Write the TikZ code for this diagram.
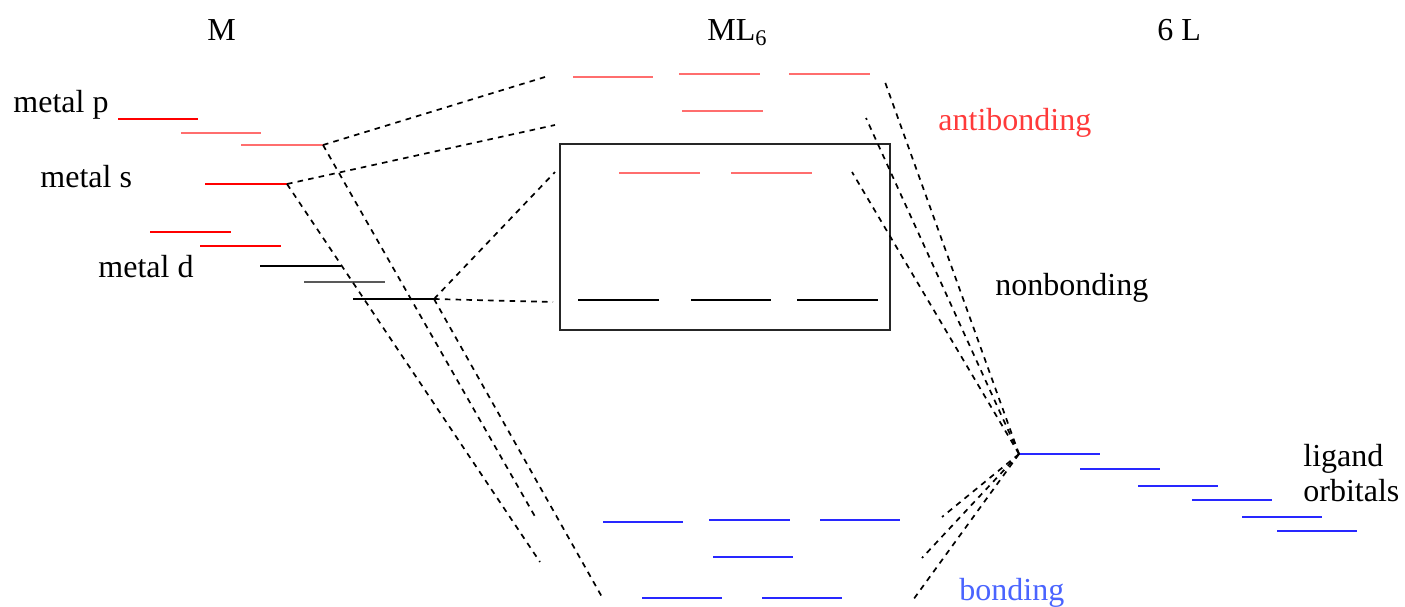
\documentclass[tikz,border=0pt]{standalone}
\usepackage{fontspec}
\setmainfont{Liberation Serif}
\usepackage{tikz}

\definecolor{rojo}{HTML}{FF0000}
\definecolor{rojoclaro}{HTML}{FF6E6E}
\definecolor{textorojo}{HTML}{FF3A3A}
\definecolor{azul}{HTML}{2828FF}
\definecolor{textoazul}{HTML}{4A64FF}

\tikzset{
  nivel/.style={line width=1.1pt},
  enlace/.style={line width=0.85pt, dash pattern=on 2.8pt off 2.6pt},
  etiqueta/.style={anchor=base west, inner sep=0pt, font=\fontsize{16}{17.5}\selectfont},
}

\begin{document}
\begin{tikzpicture}[x=5pt, y=-5pt]
\useasboundingbox (0,0) rectangle (140.5,60.6);

% titulos de las columnas
\node[etiqueta] (tM) at (20.7,4.0) {M};
\node[etiqueta] (tML) at (70.7,4.0) {ML\textsubscript{6}};
\node[etiqueta] (tL) at (115.7,4.0) {6 L};

% M: niveles del metal (p, s, d)
\node[etiqueta] (mp) at (1.3,11.2) {metal p};
\node[etiqueta] (ms) at (4.0,18.7) {metal s};
\node[etiqueta] (md) at (9.8,27.7) {metal d};
\draw[nivel, rojo] (11.8,11.9) -- (19.8,11.9);
\draw[nivel, rojoclaro] (18.1,13.3) -- (26.1,13.3);
\draw[nivel, rojoclaro] (24.1,14.5) -- (32.3,14.5) coordinate (p3);
\draw[nivel, rojo] (20.5,18.4) -- (28.7,18.4) coordinate (s);
\draw[nivel, rojo] (15.0,23.2) -- (23.1,23.2);
\draw[nivel, rojo] (20.0,24.6) -- (28.1,24.6);
\draw[nivel] (26.0,26.6) -- (34.1,26.6);
\draw[nivel, black!65] (30.4,28.2) -- (38.5,28.2);
\draw[nivel] (35.3,29.9) -- (43.4,29.9) coordinate (d3);

% ML6: antienlazantes
\draw[nivel, rojoclaro] (57.3,7.7) -- (65.3,7.7);
\draw[nivel, rojoclaro] (67.9,7.4) -- (76.0,7.4);
\draw[nivel, rojoclaro] (78.9,7.4) -- (87.0,7.4);
\draw[nivel, rojoclaro] (68.2,11.1) -- (76.3,11.1);

% caja: eg + t2g
\draw[line width=1pt, black!85] (56.0,14.4) rectangle (89.0,33.0);
\draw[nivel, rojoclaro] (61.9,17.3) -- (70.0,17.3);
\draw[nivel, rojoclaro] (73.1,17.3) -- (81.2,17.3);
\draw[nivel] (57.8,30.0) -- (65.9,30.0);
\draw[nivel] (69.1,30.0) -- (77.1,30.0);
\draw[nivel] (79.7,30.0) -- (87.8,30.0);

% ML6: enlazantes
\draw[nivel, azul] (60.3,52.2) -- (68.3,52.2);
\draw[nivel, azul] (70.9,52.0) -- (79.0,52.0);
\draw[nivel, azul] (82.0,52.0) -- (90.0,52.0);
\draw[nivel, azul] (71.3,55.7) -- (79.3,55.7);
\draw[nivel, azul] (64.2,59.8) -- (72.2,59.8);
\draw[nivel, azul] (76.2,59.8) -- (84.2,59.8);

% 6 L: orbitales de ligando
\draw[nivel, azul] (101.9,45.4) coordinate (lig) -- (110.0,45.4);
\draw[nivel, azul] (108.0,46.9) -- (116.0,46.9);
\draw[nivel, azul] (113.8,48.6) -- (121.8,48.6);
\draw[nivel, azul] (119.2,50.0) -- (127.2,50.0);
\draw[nivel, azul] (124.2,51.7) -- (132.2,51.7);
\draw[nivel, azul] (127.7,53.1) -- (135.7,53.1);
\node[etiqueta, align=left, anchor=north west] (orb) at (130.3,44.4) {ligand\\orbitals};

% rotulos
\node[etiqueta, textorojo] (anti) at (93.8,13.0) {antibonding};
\node[etiqueta] (non) at (99.5,29.5) {nonbonding};
\node[etiqueta, textoazul] (bond) at (95.9,60.0) {bonding};

% extremos libres de las lineas
\coordinate (ab1) at (54.5,7.7);
\coordinate (ab2) at (55.5,12.5);
\coordinate (ab3) at (55.5,17.2);
\coordinate (nb) at (55.3,30.2);
\coordinate (b1) at (53.7,52.0);
\coordinate (b2) at (54.0,56.2);
\coordinate (b3) at (60.2,59.7);
\coordinate (ab1r) at (88.5,8.2);
\coordinate (ab2r) at (86.6,11.8);
\coordinate (ab3r) at (85.2,17.2);
\coordinate (b1r) at (94.2,51.7);
\coordinate (b2r) at (92.2,55.8);
\coordinate (b3r) at (91.3,60.0);

% correlacion metal -> ML6
\draw[enlace] (p3) -- (ab1);
\draw[enlace] (s) -- (ab2);
\draw[enlace] (d3) -- (ab3);
\draw[enlace] (d3) -- (nb);
\draw[enlace] (p3) -- (b1);
\draw[enlace] (s) -- (b2);
\draw[enlace] (d3) -- (b3);

% correlacion ligandos -> ML6
\draw[enlace] (lig) -- (ab1r);
\draw[enlace] (lig) -- (ab2r);
\draw[enlace] (lig) -- (ab3r);
\draw[enlace] (lig) -- (b1r);
\draw[enlace] (lig) -- (b2r);
\draw[enlace] (lig) -- (b3r);
\end{tikzpicture}
\end{document}
